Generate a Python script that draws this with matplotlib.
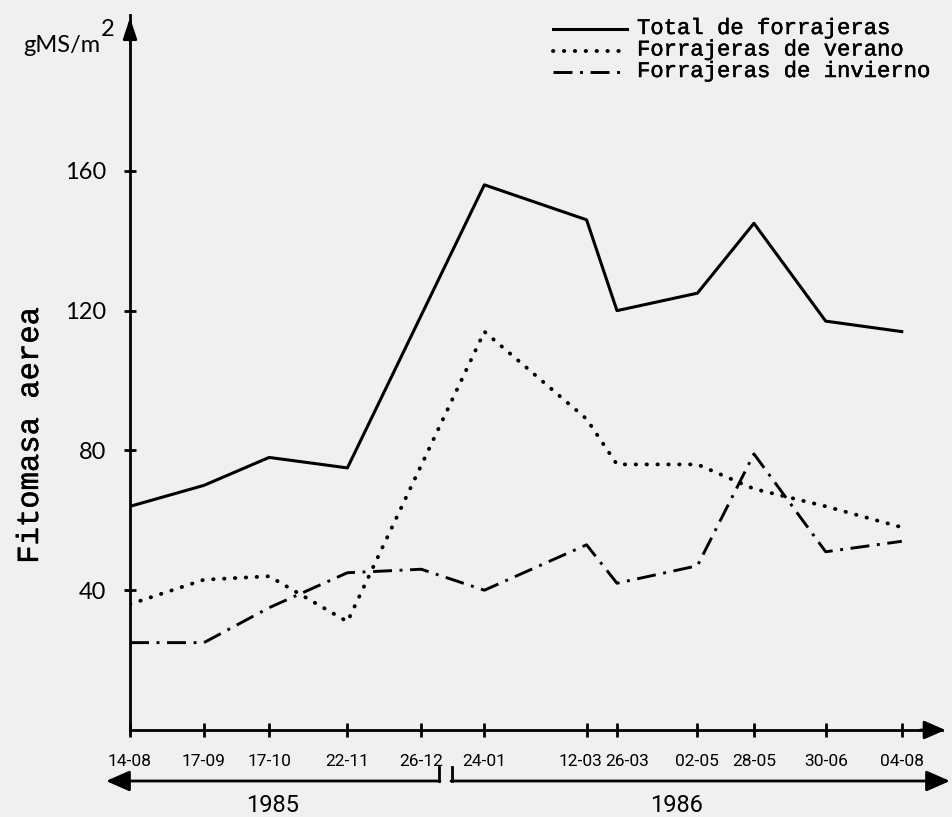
import numpy as np
import pandas as pd
import matplotlib
matplotlib.use("Agg")
import matplotlib.pyplot as plt
import matplotlib.dates as mdates
import matplotlib.patheffects as pe
from matplotlib.lines import Line2D
from matplotlib.transforms import ScaledTranslation

# fechas de muestreo (1985-1986)
fechas = ["1985-08-14", "1985-09-17", "1985-10-17", "1985-11-22", "1985-12-26",
          "1986-01-24", "1986-03-12", "1986-03-26", "1986-05-02", "1986-05-28",
          "1986-06-30", "1986-08-04"]
etiquetas = ["14-08", "17-09", "17-10", "22-11", "26-12", "24-01",
             "12-03", "26-03", "02-05", "28-05", "30-06", "04-08"]

# fitomasa aerea, gMS/m2 (nan = sin punto)
total = [64, 70, 78, 75, np.nan, 156, 146, 120, 125, 145, 117, 114]
verano = [36, 43, 44, 31, np.nan, 114, 89, 76, 76, 69, 64, 58]
invierno = [25, 25, 35, 45, 46, 40, 53, 42, 47, 79, 51, 54]

series = ["Total de forrajeras", "Forrajeras de verano", "Forrajeras de invierno"]
yticks = [40, 80, 120, 160]
anios = ["1985", "1986"]

W, H = 953, 817
fondo = "#f0f0f0"
mano = ["Roboto", "DejaVu Sans"]
maquina = ["Liberation Mono"]  # letra de maquina de escribir
grueso = [pe.withStroke(linewidth=0.35, foreground="k")]
estilos = [dict(lw=2.2, ls="-"),
           dict(lw=2.8, ls=(0, (0.1, 2.7)), dash_capstyle="round"),
           dict(lw=2.1, ls=(0, (6.5, 2.6, 1.0, 2.6)), dash_capstyle="butt")]

fig = plt.figure(figsize=(W / 100, H / 100), dpi=100, facecolor=fondo)
ax = fig.add_axes([130 / W, 87 / H, 812 / W, 715 / H])
ax.set_facecolor("none")

x = pd.to_datetime(fechas)
for y, st in zip([total, verano, invierno], estilos):
    y = np.array(y, float)
    m = ~np.isnan(y)
    ax.plot(x[m], y[m], color="k", **st)

ax.set_ylim(0, 204.6)
ax.set_xlim(x[0], x[0] + pd.Timedelta(days=373.5))

for s in ["top", "right"]:
    ax.spines[s].set_visible(False)
for s in ["left", "bottom"]:
    ax.spines[s].set_linewidth(2)

ax.set_yticks(yticks)
ax.set_yticklabels([str(v) for v in yticks], fontfamily="Lato", fontsize=17)
ax.tick_params(axis="y", direction="inout", length=8, width=2, pad=13)

ax.set_xticks(x)
ax.xaxis.set_major_formatter(mdates.DateFormatter("%d-%m"))
ax.set_xticklabels(etiquetas, fontfamily=mano, fontsize=12.5)
ax.tick_params(axis="x", direction="inout", length=10, width=2, pad=12)
# 12-03 y 26-03 estan muy juntas: se separan un poco las etiquetas
for lab, dx in zip(ax.get_xticklabels()[6:8], [-6, 10]):
    lab.set_transform(lab.get_transform() + ScaledTranslation(dx / 100, 0, fig.dpi_scale_trans))

# flechas de los ejes
ax.annotate("", xy=(0, 1.0), xytext=(0, 0.96), xycoords="axes fraction",
            arrowprops=dict(arrowstyle="-|>,head_length=0.9,head_width=0.3",
                            color="k", lw=2, mutation_scale=14))
ax.annotate("", xy=(1.0075, 0), xytext=(0.97, 0), xycoords="axes fraction",
            arrowprops=dict(arrowstyle="-|>,head_length=0.8,head_width=0.35",
                            color="k", lw=2, mutation_scale=16), annotation_clip=False)


def fp(px, py):
    """pixeles de la imagen -> fraccion de figura"""
    return px / W, 1 - py / H


# unidades y titulo del eje y
fig.text(*fp(100, 52), "gMS/m", ha="right", va="baseline", fontfamily="Lato", fontsize=17)
fig.text(*fp(101, 36), "2", ha="left", va="baseline", fontfamily="Lato", fontsize=17)
fig.text(*fp(30, 436), "Fitomasa aerea", rotation=90, ha="center", va="center",
         fontfamily=maquina, fontsize=22, path_effects=grueso)

# leyenda
for i, (lab, st) in enumerate(zip(series, estilos)):
    yl = 29 + i * 21.5
    xa, ya = fp(553, yl)
    xb, _ = fp(627, yl)
    fig.add_artist(Line2D([xa, xb], [ya, ya], color="k", transform=fig.transFigure, **st))
    fig.text(*fp(637, yl + 5), lab, ha="left", va="baseline",
             fontfamily=maquina, fontsize=16, path_effects=grueso)

# flechas de los anios
yf = 781
fig.add_artist(Line2D(*zip(fp(439, 767), fp(439, yf)), color="k", lw=2, transform=fig.transFigure))
fig.add_artist(Line2D(*zip(fp(452, 767), fp(452, yf)), color="k", lw=2, transform=fig.transFigure))
ax.annotate("", xy=fp(106, yf), xytext=fp(440, yf), xycoords="figure fraction",
            arrowprops=dict(arrowstyle="-|>,head_length=0.8,head_width=0.35",
                            color="k", lw=2, mutation_scale=18, shrinkA=0, shrinkB=0),
            annotation_clip=False)
ax.annotate("", xy=fp(950, yf), xytext=fp(451, yf), xycoords="figure fraction",
            arrowprops=dict(arrowstyle="-|>,head_length=0.8,head_width=0.35",
                            color="k", lw=2, mutation_scale=18, shrinkA=0, shrinkB=0),
            annotation_clip=False)
fig.text(*fp(273, 805), anios[0], ha="center", va="center", fontfamily=mano, fontsize=17)
fig.text(*fp(677, 805), anios[1], ha="center", va="center", fontfamily=mano, fontsize=17)

fig.savefig("out.png", dpi=100, facecolor=fondo)
